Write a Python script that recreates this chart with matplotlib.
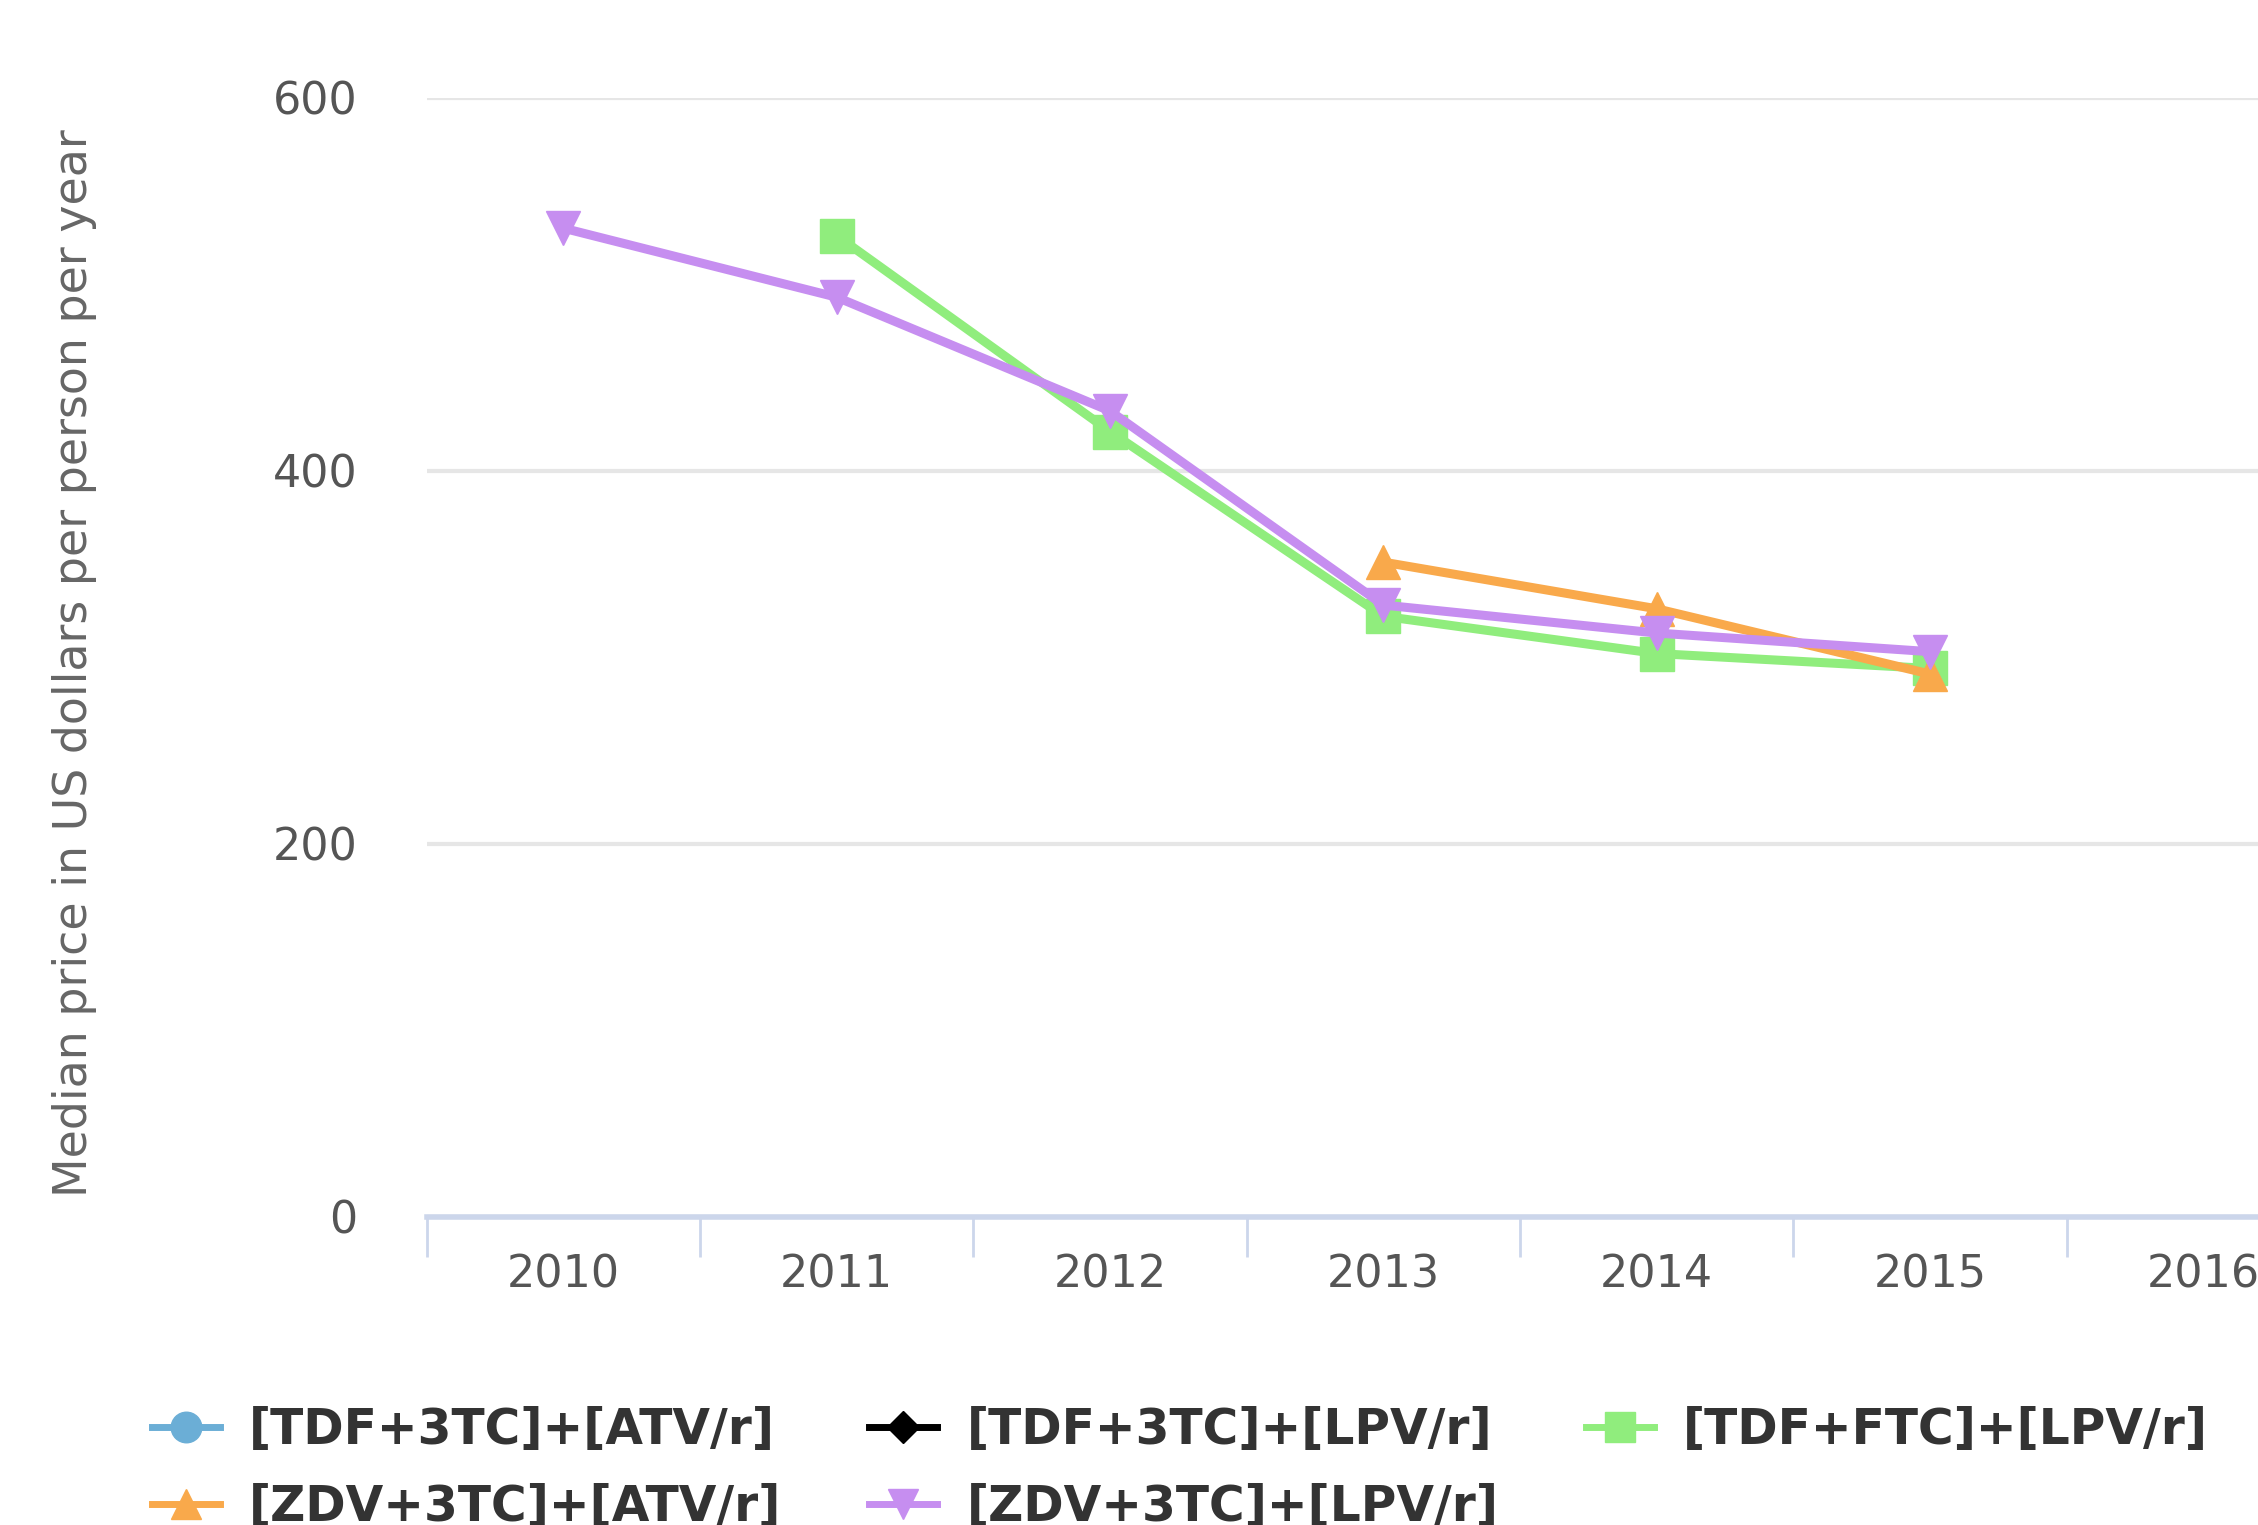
import numpy as np
import matplotlib.pyplot as plt
from matplotlib.lines import Line2D

# categories on the x axis
years = ['2010', '2011', '2012', '2013', '2014', '2015', '2016']

# series (None = no value that year)
tdf_3tc_atv = [None, None, None, None, None, None, None]
tdf_3tc_lpv = [None, None, None, None, None, None, None]
tdf_ftc_lpv = [None, 526, 421, 322, 302, 294, None]
zdv_3tc_atv = [None, None, None, 351, 326, 291, None]
zdv_3tc_lpv = [530, 493, 432, 328, 313, 303, None]

names = ['[TDF+3TC]+[ATV/r]', '[TDF+3TC]+[LPV/r]', '[TDF+FTC]+[LPV/r]',
         '[ZDV+3TC]+[ATV/r]', '[ZDV+3TC]+[LPV/r]']
colors = ['#6baed6', '#000000', '#90ed7d', '#f9a94b', '#c68ef0']
markers = ['o', 'D', 's', '^', 'v']
series = [tdf_3tc_atv, tdf_3tc_lpv, tdf_ftc_lpv, zdv_3tc_atv, zdv_3tc_lpv]

fig = plt.figure(figsize=(22.58, 15.25), dpi=100)
ax = fig.add_axes([0.189, 0.202, 0.811, 0.734])

x = np.arange(len(years))
handles = []
for vals, nm, col, mk in zip(series, names, colors, markers):
    y = np.array([np.nan if v is None else v for v in vals], dtype=float)
    ms = 16 if mk == 'D' else 22
    ax.plot(x, y, color=col, lw=6.5, marker=mk, ms=24, zorder=3)
    handles.append(Line2D([], [], color=col, lw=5, marker=mk, ms=ms))

ax.set_yticks([0, 200, 400, 600])
ax.set_xticks(x)
ax.set_xticklabels(years)
ax.set_xticks(np.arange(-0.5, 7, 1), minor=True)
# limits after the ticks, otherwise set_xticks widens the view
ax.set_xlim(-0.5, 6.2)
ax.set_ylim(0, 600)

ax.grid(axis='y', color='#e6e6e6', lw=3)
ax.set_axisbelow(True)
for s in ['top', 'right', 'left']:
    ax.spines[s].set_visible(False)
ax.spines['bottom'].set_color('#ccd6eb')
ax.spines['bottom'].set_linewidth(4)

ax.tick_params(axis='x', which='major', length=0, pad=26, labelsize=32, labelcolor='#555555')
ax.tick_params(axis='x', which='minor', length=29, width=2, color='#ccd6eb')
ax.tick_params(axis='y', length=0, pad=50, labelsize=32, labelcolor='#555555')

fig.text(0.033, 0.565, 'Median price in US dollars per person per year',
         rotation=90, ha='center', va='center', fontsize=33, color='#666666')

# row-wise legend order (matplotlib fills columns first)
order = [0, 3, 1, 4, 2]
fig.legend([handles[i] for i in order], [names[i] for i in order], ncol=3,
           loc='upper left', bbox_to_anchor=(0.048, 0.107),
           frameon=False, handlelength=1.4, handletextpad=0.6, columnspacing=1.8,
           labelspacing=0.6, prop={'weight': 'bold', 'size': 35}, labelcolor='#333333')

plt.savefig('out.png')
